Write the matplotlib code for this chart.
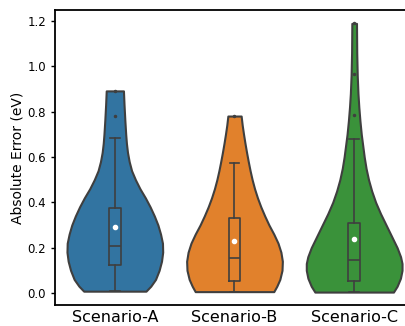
import matplotlib
matplotlib.use('Agg')
import matplotlib.pyplot as plt

categories = ['Scenario-A', 'Scenario-B', 'Scenario-C']
colors = ['#3274a1', '#e1812c', '#3a923a']

# violin outlines: error level -> relative half width
a_levels = [0.008, 0.03, 0.06, 0.10, 0.14, 0.18, 0.22, 0.26, 0.30, 0.34, 0.38, 0.42,
            0.46, 0.50, 0.54, 0.58, 0.62, 0.66, 0.70, 0.76, 0.83, 0.892]
a_widths = [0.26, 0.30, 0.34, 0.37, 0.39, 0.40, 0.398, 0.382, 0.36, 0.33, 0.295, 0.255,
            0.21, 0.172, 0.14, 0.12, 0.106, 0.097, 0.091, 0.084, 0.077, 0.072]

b_levels = [0.006, 0.03, 0.06, 0.10, 0.14, 0.18, 0.22, 0.26, 0.30, 0.34, 0.38, 0.42,
            0.46, 0.50, 0.54, 0.58, 0.62, 0.66, 0.70, 0.74, 0.781]
b_widths = [0.325, 0.35, 0.375, 0.393, 0.396, 0.384, 0.36, 0.325, 0.285, 0.25, 0.218, 0.19,
            0.166, 0.146, 0.129, 0.114, 0.100, 0.087, 0.075, 0.064, 0.055]

c_levels = [0.004, 0.03, 0.065, 0.10, 0.13, 0.16, 0.20, 0.25, 0.30, 0.35, 0.40, 0.45,
            0.50, 0.55, 0.60, 0.65, 0.70, 0.76, 0.82, 0.88, 0.96, 1.06, 1.19]
c_widths = [0.32, 0.35, 0.377, 0.39, 0.39, 0.378, 0.35, 0.305, 0.26, 0.215, 0.175, 0.143,
            0.117, 0.097, 0.082, 0.07, 0.058, 0.047, 0.038, 0.031, 0.025, 0.021, 0.019]

# box plot summary per scenario
q1 = [0.122, 0.052, 0.055]
median = [0.208, 0.156, 0.144]
q3 = [0.375, 0.331, 0.310]
whisker_low = [0.008, 0.006, 0.004]
whisker_high = [0.682, 0.573, 0.679]
means = [0.290, 0.230, 0.238]
fliers = [[0.783, 0.892], [0.781], [0.785, 0.965, 1.19]]

levels = [a_levels, b_levels, c_levels]
widths = [a_widths, b_widths, c_widths]

edge = '#3f3f3f'

fig = plt.figure(figsize=(4.06, 3.26), dpi=100)
ax = fig.add_axes([55 / 406, 21 / 326, 359 / 406, 295 / 326])

vpstats = []
for i in range(3):
    vpstats.append({'coords': levels[i], 'vals': widths[i], 'mean': means[i],
                    'median': median[i], 'min': levels[i][0], 'max': levels[i][-1]})
parts = ax.violin(vpstats, positions=[0, 1, 2], widths=0.8, showextrema=False)
for body, col in zip(parts['bodies'], colors):
    body.set_facecolor(col)
    body.set_edgecolor(edge)
    body.set_linewidth(1.5)
    body.set_joinstyle('round')
    body.set_alpha(1)
    body.set_zorder(1)

bxpstats = []
for i in range(3):
    bxpstats.append({'med': median[i], 'q1': q1[i], 'q3': q3[i], 'whislo': whisker_low[i],
                     'whishi': whisker_high[i], 'mean': means[i], 'fliers': fliers[i]})
ax.bxp(bxpstats, positions=[0, 1, 2], widths=0.1, capwidths=0.08, showmeans=True,
       boxprops=dict(color=edge, linewidth=1.2),
       whiskerprops=dict(color=edge, linewidth=1.2),
       capprops=dict(color=edge, linewidth=1.2),
       medianprops=dict(color=edge, linewidth=1.2),
       meanprops=dict(marker='o', markerfacecolor='white', markeredgecolor='white', markersize=3),
       flierprops=dict(marker='o', markerfacecolor=edge, markeredgecolor=edge, markersize=1.5),
       zorder=3)

ax.set_xlim(-0.5, 2.5)
ax.set_ylim(-0.053, 1.249)
ax.set_xticks([0, 1, 2])
ax.set_xticklabels(categories, fontsize=11.5)
ax.set_yticks([0.0, 0.2, 0.4, 0.6, 0.8, 1.0, 1.2])
ax.set_yticklabels(['0.0', '0.2', '0.4', '0.6', '0.8', '1.0', '1.2'], fontsize=8.5)
ax.tick_params(axis='x', length=0, pad=3.5)
ax.tick_params(axis='y', length=3, width=1)
ax.set_ylabel('Absolute Error (eV)', fontsize=10, labelpad=2)
for s in ax.spines.values():
    s.set_linewidth(1.3)

fig.savefig('out.png', dpi=100)
